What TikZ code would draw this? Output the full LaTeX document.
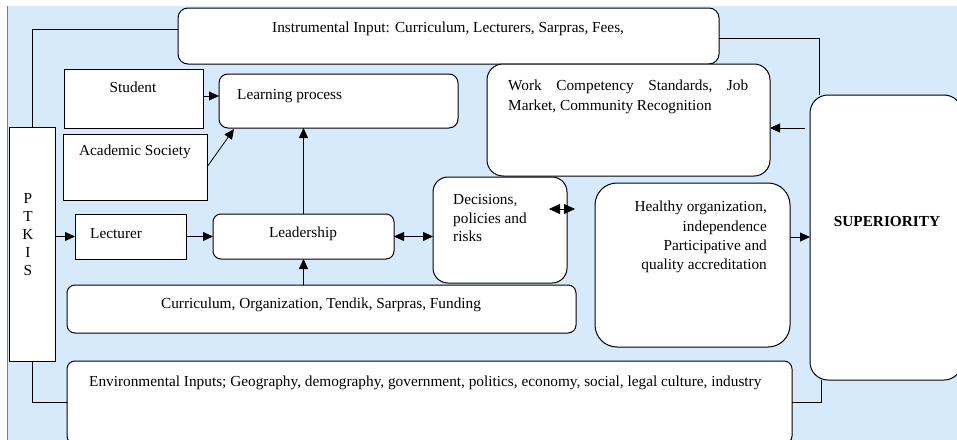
\documentclass[tikz,border=0pt]{standalone}
\usepackage{fontspec}
\setmainfont{Liberation Serif}
\usetikzlibrary{arrows.meta}
\definecolor{bg}{RGB}{214,234,252}
\definecolor{edgeblue}{RGB}{70,140,210}
\begin{document}
\begin{tikzpicture}[x=1pt,y=-1pt,
  box/.style={draw=black, line width=1pt, fill=white, inner sep=0pt, outer sep=0pt},
  rbox/.style={box, rounded corners=#1}, rbox/.default=10pt,
  txt/.style={font=\fontsize{15.3}{19}\selectfont, inner sep=0pt},
  arr/.style={-{Triangle[length=10pt,width=9pt]}, line width=0.8pt},
  darr/.style={{Triangle[length=10pt,width=9pt]}-{Triangle[length=10pt,width=9pt]}, line width=0.8pt},
  sdarr/.style={{Triangle[length=11pt,width=10pt]}-{Triangle[length=11pt,width=10pt]}, line width=0.8pt},
  ln/.style={line width=0.8pt}]
\newcommand\bx[6]{\node[#6, minimum width=#4pt-#2pt, minimum height=#5pt-#3pt, anchor=north west] (#1) at (#2,#3) {};}
\useasboundingbox (0,0) rectangle (957,439);
\clip (0,0) rectangle (957,439);
\fill[bg] (7,6) rectangle (960,445);
\draw[edgeblue, line width=0.8pt] (7,6) -- (7,445);

% boxes
\bx{instr}{178}{8}{719}{64}{rbox=10pt}
\bx{student}{64}{69}{203}{128}{box}
\bx{learn}{219}{74}{458}{128}{rbox=9pt}
\bx{acad}{63}{134}{207}{200}{box}
\bx{ptkis}{9}{127}{55}{361}{box}
\bx{lect}{75}{214}{186}{259}{box}
\bx{lead}{213}{214}{394}{259}{rbox=8pt}
\bx{dec}{433}{177}{567}{283}{rbox=15pt}
\bx{work}{487}{64}{770}{176}{rbox=16pt}
\bx{health}{595}{183}{790}{347}{rbox=22pt}
\bx{sup}{810}{95}{962}{380}{rbox=18pt}
\bx{curr}{67}{285}{576}{333}{rbox=8pt}
\bx{env}{67}{361}{792}{444}{rbox=8pt}

% texts
\node[txt, anchor=west] (tinstr) at (272,29) {Instrumental Input: Curriculum, Lecturers, Sarpras, Fees,};
\node[txt] (tstudent) at (133,87) {Student};
\node[txt, anchor=west] (tlearn) at (237,96) {Learning process};
\node[txt] (tacad) at (135,152) {Academic Society};
\node[txt, align=center, font=\fontsize{15.3}{18.2}\selectfont] (tptkis) at (28,234.5) {P\\T\\K\\I\\S};
\node[txt, anchor=west] (tlect) at (90,234) {Lecturer};
\node[txt] (tlead) at (303,234) {Leadership};
\node[txt, anchor=west, align=left, font=\fontsize{15.3}{18.5}\selectfont] (tdec) at (453,218.5) {Decisions,\\policies and\\risks};
\node[txt, anchor=west, align=left, font=\fontsize{15.3}{20}\selectfont] (twork) at (508,97) {\makebox[240pt][l]{Work\hfill Competency\hfill Standards,\hfill Job}\\Market, Community Recognition};
\node[txt, anchor=east, align=right, font=\fontsize{15.3}{19.3}\selectfont] (thealth) at (767,237) {Healthy organization,\\independence\\Participative and\\quality accreditation};
\node[txt, font=\fontsize{15.3}{19}\selectfont\bfseries] (tsup) at (887,222) {SUPERIORITY};
\node[txt] (tcurr) at (321,305) {Curriculum, Organization, Tendik, Sarpras, Funding};
\node[txt, anchor=west] (tenv) at (89,383) {Environmental Inputs; Geography, demography, government, politics, economy, social, legal culture, industry};

% connectors (plain lines)
\draw[ln] ([yshift=7pt]instr.west) -| (ptkis.north);
\draw[ln] ([yshift=-2pt]instr.east) -| ([xshift=9pt]sup.north west);
\draw[ln] (ptkis.south) |- (env.west);
\draw[ln] (env.east) -| ([xshift=11pt]sup.south west);

% arrows
\path ([yshift=2.5pt]student.east) coordinate (s1);
\draw[arr] (s1) -- (s1 -| learn.west);
\draw[arr] (acad.east) -- ([xshift=15pt,yshift=-1pt]learn.south west);
\draw[arr] (lead.north) -- (lead.north |- learn.south);
\draw[arr] (lead.south |- curr.north) -- (lead.south);
\draw[arr] (lect.west -| ptkis.east) -- (lect.west);
\draw[arr] (lect.east) -- (lead.west);
\draw[darr] (lead.east) -- (lead.east -| dec.west);
\coordinate (d1) at (549,209);
\coordinate (d2) at (575,209);
\draw[sdarr] (d1) -- (d2);
\path ([yshift=28pt]health.east) coordinate (h1);
\draw[arr] (h1) -- (h1 -| sup.west);
\path ([yshift=-8pt]work.east) coordinate (w1);
\draw[arr, shorten <=5pt] (w1 -| sup.west) -- (w1);
\end{tikzpicture}
\end{document}
